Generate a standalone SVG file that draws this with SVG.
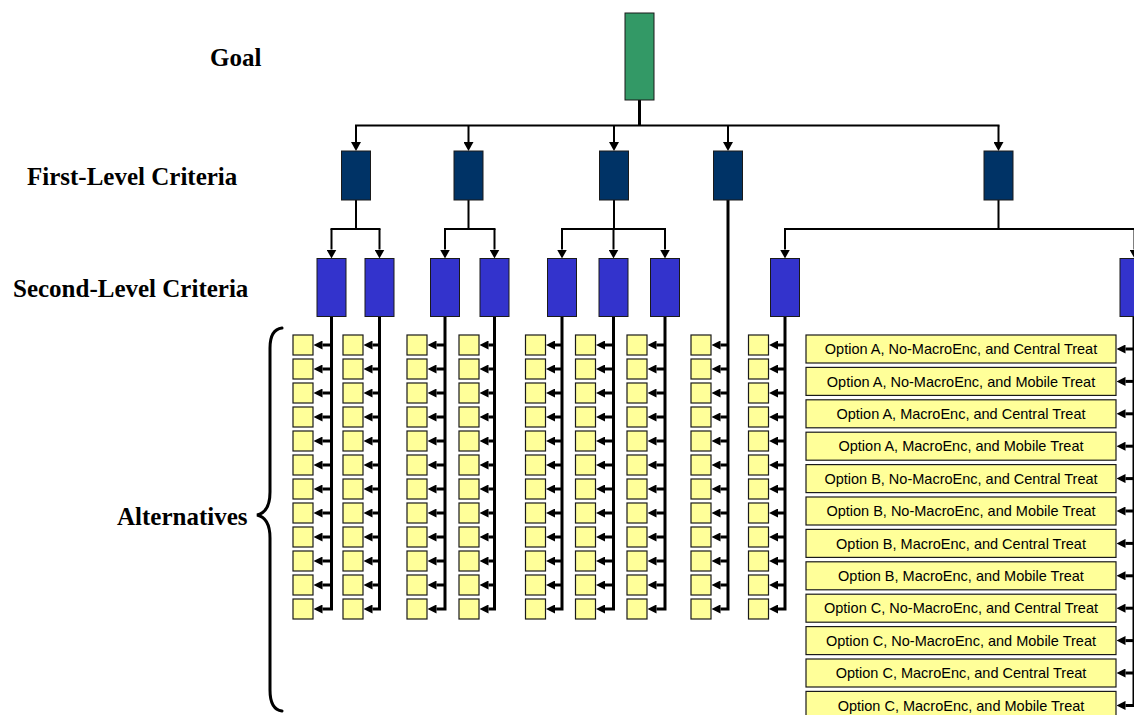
<svg xmlns="http://www.w3.org/2000/svg" xmlns:xlink="http://www.w3.org/1999/xlink" width="1134" height="715" viewBox="0 0 1134 715">
  <style>
    .lvl { font-family: "Liberation Serif", "Times New Roman", serif; font-weight: bold; font-size: 25px; fill: #000; }
    .opt-t { font-family: "Liberation Sans", Arial, sans-serif; font-size: 14.5px; fill: #000; text-anchor: middle; }
    .goal { fill: #339966; stroke: #1a1a1a; stroke-width: 1; }
    .c1 { fill: #003366; stroke: #1a1a1a; stroke-width: 1; }
    .c2 { fill: #3333cc; stroke: #1a1a1a; stroke-width: 1; }
    .alt { fill: #ffff99; stroke: #1a1a1a; stroke-width: 1.2; }
    .bar { fill: none; stroke: #000; stroke-width: 2; stroke-linecap: square; }
    .drop { fill: none; stroke: #000; stroke-width: 2; marker-end: url(#ahD); }
    .trunk { fill: none; stroke: #000; stroke-width: 3; }
    .stem { fill: none; stroke: #000; stroke-width: 3; marker-end: url(#ahL); }
    .brace { fill: none; stroke: #000; stroke-width: 3; stroke-linecap: round; }
  </style>
  <defs>
    <!-- arrowheads: base sits on the path end, tip points onward -->
    <marker id="ahD" viewBox="0 0 9 10" refX="0" refY="5" markerWidth="9" markerHeight="10" orient="auto" markerUnits="userSpaceOnUse">
      <path d="M0,0 L9,5 L0,10 z" fill="#000"/>
    </marker>
    <marker id="ahL" viewBox="0 0 9 9" refX="0" refY="4.5" markerWidth="9" markerHeight="9" orient="auto" markerUnits="userSpaceOnUse">
      <path d="M0,0 L9,4.5 L0,9 z" fill="#000"/>
    </marker>
    <rect id="sq" width="20" height="20" class="alt"/>
    <rect id="opt" width="310" height="28" class="alt"/>
  </defs>

  <!-- level labels -->
  <text class="lvl" x="210" y="66">Goal</text>
  <text class="lvl" x="27" y="185">First-Level Criteria</text>
  <text class="lvl" x="13" y="297">Second-Level Criteria</text>
  <text class="lvl" x="117" y="525">Alternatives</text>
  <path class="brace" d="M282,328 C274,329 270,335 270,348 V492 C270,506 266,513 257,515 C266,517 270,524 270,538 V690 C270,703 274,710 282,711"/>

  <!-- connectors -->
  <g id="connectors">
    <path class="trunk" d="M639.5,100 V125.5"/>
    <path class="bar" d="M356,125.5 H998.5"/>
    <path class="drop" d="M356,125.5 V142"/>
    <path class="drop" d="M468.5,125.5 V142"/>
    <path class="drop" d="M614,125.5 V142"/>
    <path class="drop" d="M728,125.5 V142"/>
    <path class="drop" d="M998.5,125.5 V142"/>

    <path class="bar" d="M356,200 V229 M331.5,229 H379.5"/>
    <path class="bar" d="M468.5,200 V229 M445,229 H494.5"/>
    <path class="bar" d="M614,200 V229 M562,229 H665"/>
    <path class="bar" d="M998.5,200 V229 M785,229 H1140"/>
    <path class="drop" d="M331.5,229 V249.5"/>
    <path class="drop" d="M379.5,229 V249.5"/>
    <path class="drop" d="M445,229 V249.5"/>
    <path class="drop" d="M494.5,229 V249.5"/>
    <path class="drop" d="M562,229 V249.5"/>
    <path class="drop" d="M613.5,229 V249.5"/>
    <path class="drop" d="M665,229 V249.5"/>
    <path class="drop" d="M785,229 V249.5"/>
    <path class="drop" d="M1134.5,229 V249.5"/>

    <!-- column 1 -->
    <path class="stem" d="M331.5,317 V609 H322.5"/>
    <path class="stem" d="M331.5,345 H322.5"/><path class="stem" d="M331.5,369 H322.5"/><path class="stem" d="M331.5,393 H322.5"/>
    <path class="stem" d="M331.5,417 H322.5"/><path class="stem" d="M331.5,441 H322.5"/><path class="stem" d="M331.5,465 H322.5"/>
    <path class="stem" d="M331.5,489 H322.5"/><path class="stem" d="M331.5,513 H322.5"/><path class="stem" d="M331.5,537 H322.5"/>
    <path class="stem" d="M331.5,561 H322.5"/><path class="stem" d="M331.5,585 H322.5"/>
    <!-- column 2 -->
    <path class="stem" d="M379.5,317 V609 H372.5"/>
    <path class="stem" d="M379.5,345 H372.5"/><path class="stem" d="M379.5,369 H372.5"/><path class="stem" d="M379.5,393 H372.5"/>
    <path class="stem" d="M379.5,417 H372.5"/><path class="stem" d="M379.5,441 H372.5"/><path class="stem" d="M379.5,465 H372.5"/>
    <path class="stem" d="M379.5,489 H372.5"/><path class="stem" d="M379.5,513 H372.5"/><path class="stem" d="M379.5,537 H372.5"/>
    <path class="stem" d="M379.5,561 H372.5"/><path class="stem" d="M379.5,585 H372.5"/>
    <!-- column 3 -->
    <path class="stem" d="M445,317 V609 H436.5"/>
    <path class="stem" d="M445,345 H436.5"/><path class="stem" d="M445,369 H436.5"/><path class="stem" d="M445,393 H436.5"/>
    <path class="stem" d="M445,417 H436.5"/><path class="stem" d="M445,441 H436.5"/><path class="stem" d="M445,465 H436.5"/>
    <path class="stem" d="M445,489 H436.5"/><path class="stem" d="M445,513 H436.5"/><path class="stem" d="M445,537 H436.5"/>
    <path class="stem" d="M445,561 H436.5"/><path class="stem" d="M445,585 H436.5"/>
    <!-- column 4 -->
    <path class="stem" d="M494.5,317 V609 H488.5"/>
    <path class="stem" d="M494.5,345 H488.5"/><path class="stem" d="M494.5,369 H488.5"/><path class="stem" d="M494.5,393 H488.5"/>
    <path class="stem" d="M494.5,417 H488.5"/><path class="stem" d="M494.5,441 H488.5"/><path class="stem" d="M494.5,465 H488.5"/>
    <path class="stem" d="M494.5,489 H488.5"/><path class="stem" d="M494.5,513 H488.5"/><path class="stem" d="M494.5,537 H488.5"/>
    <path class="stem" d="M494.5,561 H488.5"/><path class="stem" d="M494.5,585 H488.5"/>
    <!-- column 5 -->
    <path class="stem" d="M562,317 V609 H555"/>
    <path class="stem" d="M562,345 H555"/><path class="stem" d="M562,369 H555"/><path class="stem" d="M562,393 H555"/>
    <path class="stem" d="M562,417 H555"/><path class="stem" d="M562,441 H555"/><path class="stem" d="M562,465 H555"/>
    <path class="stem" d="M562,489 H555"/><path class="stem" d="M562,513 H555"/><path class="stem" d="M562,537 H555"/>
    <path class="stem" d="M562,561 H555"/><path class="stem" d="M562,585 H555"/>
    <!-- column 6 -->
    <path class="stem" d="M613.5,317 V609 H605"/>
    <path class="stem" d="M613.5,345 H605"/><path class="stem" d="M613.5,369 H605"/><path class="stem" d="M613.5,393 H605"/>
    <path class="stem" d="M613.5,417 H605"/><path class="stem" d="M613.5,441 H605"/><path class="stem" d="M613.5,465 H605"/>
    <path class="stem" d="M613.5,489 H605"/><path class="stem" d="M613.5,513 H605"/><path class="stem" d="M613.5,537 H605"/>
    <path class="stem" d="M613.5,561 H605"/><path class="stem" d="M613.5,585 H605"/>
    <!-- column 7 -->
    <path class="stem" d="M665,317 V609 H656.5"/>
    <path class="stem" d="M665,345 H656.5"/><path class="stem" d="M665,369 H656.5"/><path class="stem" d="M665,393 H656.5"/>
    <path class="stem" d="M665,417 H656.5"/><path class="stem" d="M665,441 H656.5"/><path class="stem" d="M665,465 H656.5"/>
    <path class="stem" d="M665,489 H656.5"/><path class="stem" d="M665,513 H656.5"/><path class="stem" d="M665,537 H656.5"/>
    <path class="stem" d="M665,561 H656.5"/><path class="stem" d="M665,585 H656.5"/>
    <!-- column 8 (straight from first-level criterion 4) -->
    <path class="stem" d="M728,200 V609 H720.5"/>
    <path class="stem" d="M728,345 H720.5"/><path class="stem" d="M728,369 H720.5"/><path class="stem" d="M728,393 H720.5"/>
    <path class="stem" d="M728,417 H720.5"/><path class="stem" d="M728,441 H720.5"/><path class="stem" d="M728,465 H720.5"/>
    <path class="stem" d="M728,489 H720.5"/><path class="stem" d="M728,513 H720.5"/><path class="stem" d="M728,537 H720.5"/>
    <path class="stem" d="M728,561 H720.5"/><path class="stem" d="M728,585 H720.5"/>
    <!-- column 9 -->
    <path class="stem" d="M785,317 V609 H778"/>
    <path class="stem" d="M785,345 H778"/><path class="stem" d="M785,369 H778"/><path class="stem" d="M785,393 H778"/>
    <path class="stem" d="M785,417 H778"/><path class="stem" d="M785,441 H778"/><path class="stem" d="M785,465 H778"/>
    <path class="stem" d="M785,489 H778"/><path class="stem" d="M785,513 H778"/><path class="stem" d="M785,537 H778"/>
    <path class="stem" d="M785,561 H778"/><path class="stem" d="M785,585 H778"/>
    <!-- named options column -->
    <path class="stem" d="M1134,317 V705.4 H1125.5"/>
    <path class="stem" d="M1134,349 H1125.5"/><path class="stem" d="M1134,381.4 H1125.5"/><path class="stem" d="M1134,413.8 H1125.5"/>
    <path class="stem" d="M1134,446.2 H1125.5"/><path class="stem" d="M1134,478.6 H1125.5"/><path class="stem" d="M1134,511 H1125.5"/>
    <path class="stem" d="M1134,543.4 H1125.5"/><path class="stem" d="M1134,575.8 H1125.5"/><path class="stem" d="M1134,608.2 H1125.5"/>
    <path class="stem" d="M1134,640.6 H1125.5"/><path class="stem" d="M1134,673 H1125.5"/>
  </g>

  <!-- goal -->
  <g id="goal"><rect class="goal" x="625" y="13" width="29" height="87"/></g>

  <!-- first-level criteria -->
  <g id="crit1-1"><rect class="c1" x="341.5" y="151" width="29" height="49"/></g>
  <g id="crit1-2"><rect class="c1" x="454" y="151" width="29" height="49"/></g>
  <g id="crit1-3"><rect class="c1" x="599.5" y="151" width="29" height="49"/></g>
  <g id="crit1-4"><rect class="c1" x="713.5" y="151" width="29" height="49"/></g>
  <g id="crit1-5"><rect class="c1" x="984" y="151" width="29" height="49"/></g>

  <!-- second-level criteria -->
  <g id="crit2-1"><rect class="c2" x="317" y="258.5" width="29" height="58"/></g>
  <g id="crit2-2"><rect class="c2" x="365" y="258.5" width="29" height="58"/></g>
  <g id="crit2-3"><rect class="c2" x="430.5" y="258.5" width="29" height="58"/></g>
  <g id="crit2-4"><rect class="c2" x="480" y="258.5" width="29" height="58"/></g>
  <g id="crit2-5"><rect class="c2" x="547.5" y="258.5" width="29" height="58"/></g>
  <g id="crit2-6"><rect class="c2" x="599" y="258.5" width="29" height="58"/></g>
  <g id="crit2-7"><rect class="c2" x="650.5" y="258.5" width="29" height="58"/></g>
  <g id="crit2-8"><rect class="c2" x="770.5" y="258.5" width="29" height="58"/></g>
  <g id="crit2-9"><rect class="c2" x="1120" y="258.5" width="29" height="58"/></g>

  <!-- alternatives, column 1 -->
  <g id="alt1-01"><use href="#sq" x="293" y="335"/></g><g id="alt1-02"><use href="#sq" x="293" y="359"/></g>
  <g id="alt1-03"><use href="#sq" x="293" y="383"/></g><g id="alt1-04"><use href="#sq" x="293" y="407"/></g>
  <g id="alt1-05"><use href="#sq" x="293" y="431"/></g><g id="alt1-06"><use href="#sq" x="293" y="455"/></g>
  <g id="alt1-07"><use href="#sq" x="293" y="479"/></g><g id="alt1-08"><use href="#sq" x="293" y="503"/></g>
  <g id="alt1-09"><use href="#sq" x="293" y="527"/></g><g id="alt1-10"><use href="#sq" x="293" y="551"/></g>
  <g id="alt1-11"><use href="#sq" x="293" y="575"/></g><g id="alt1-12"><use href="#sq" x="293" y="599"/></g>
  <!-- column 2 -->
  <g id="alt2-01"><use href="#sq" x="343" y="335"/></g><g id="alt2-02"><use href="#sq" x="343" y="359"/></g>
  <g id="alt2-03"><use href="#sq" x="343" y="383"/></g><g id="alt2-04"><use href="#sq" x="343" y="407"/></g>
  <g id="alt2-05"><use href="#sq" x="343" y="431"/></g><g id="alt2-06"><use href="#sq" x="343" y="455"/></g>
  <g id="alt2-07"><use href="#sq" x="343" y="479"/></g><g id="alt2-08"><use href="#sq" x="343" y="503"/></g>
  <g id="alt2-09"><use href="#sq" x="343" y="527"/></g><g id="alt2-10"><use href="#sq" x="343" y="551"/></g>
  <g id="alt2-11"><use href="#sq" x="343" y="575"/></g><g id="alt2-12"><use href="#sq" x="343" y="599"/></g>
  <!-- column 3 -->
  <g id="alt3-01"><use href="#sq" x="407" y="335"/></g><g id="alt3-02"><use href="#sq" x="407" y="359"/></g>
  <g id="alt3-03"><use href="#sq" x="407" y="383"/></g><g id="alt3-04"><use href="#sq" x="407" y="407"/></g>
  <g id="alt3-05"><use href="#sq" x="407" y="431"/></g><g id="alt3-06"><use href="#sq" x="407" y="455"/></g>
  <g id="alt3-07"><use href="#sq" x="407" y="479"/></g><g id="alt3-08"><use href="#sq" x="407" y="503"/></g>
  <g id="alt3-09"><use href="#sq" x="407" y="527"/></g><g id="alt3-10"><use href="#sq" x="407" y="551"/></g>
  <g id="alt3-11"><use href="#sq" x="407" y="575"/></g><g id="alt3-12"><use href="#sq" x="407" y="599"/></g>
  <!-- column 4 -->
  <g id="alt4-01"><use href="#sq" x="459" y="335"/></g><g id="alt4-02"><use href="#sq" x="459" y="359"/></g>
  <g id="alt4-03"><use href="#sq" x="459" y="383"/></g><g id="alt4-04"><use href="#sq" x="459" y="407"/></g>
  <g id="alt4-05"><use href="#sq" x="459" y="431"/></g><g id="alt4-06"><use href="#sq" x="459" y="455"/></g>
  <g id="alt4-07"><use href="#sq" x="459" y="479"/></g><g id="alt4-08"><use href="#sq" x="459" y="503"/></g>
  <g id="alt4-09"><use href="#sq" x="459" y="527"/></g><g id="alt4-10"><use href="#sq" x="459" y="551"/></g>
  <g id="alt4-11"><use href="#sq" x="459" y="575"/></g><g id="alt4-12"><use href="#sq" x="459" y="599"/></g>
  <!-- column 5 -->
  <g id="alt5-01"><use href="#sq" x="525.5" y="335"/></g><g id="alt5-02"><use href="#sq" x="525.5" y="359"/></g>
  <g id="alt5-03"><use href="#sq" x="525.5" y="383"/></g><g id="alt5-04"><use href="#sq" x="525.5" y="407"/></g>
  <g id="alt5-05"><use href="#sq" x="525.5" y="431"/></g><g id="alt5-06"><use href="#sq" x="525.5" y="455"/></g>
  <g id="alt5-07"><use href="#sq" x="525.5" y="479"/></g><g id="alt5-08"><use href="#sq" x="525.5" y="503"/></g>
  <g id="alt5-09"><use href="#sq" x="525.5" y="527"/></g><g id="alt5-10"><use href="#sq" x="525.5" y="551"/></g>
  <g id="alt5-11"><use href="#sq" x="525.5" y="575"/></g><g id="alt5-12"><use href="#sq" x="525.5" y="599"/></g>
  <!-- column 6 -->
  <g id="alt6-01"><use href="#sq" x="575.5" y="335"/></g><g id="alt6-02"><use href="#sq" x="575.5" y="359"/></g>
  <g id="alt6-03"><use href="#sq" x="575.5" y="383"/></g><g id="alt6-04"><use href="#sq" x="575.5" y="407"/></g>
  <g id="alt6-05"><use href="#sq" x="575.5" y="431"/></g><g id="alt6-06"><use href="#sq" x="575.5" y="455"/></g>
  <g id="alt6-07"><use href="#sq" x="575.5" y="479"/></g><g id="alt6-08"><use href="#sq" x="575.5" y="503"/></g>
  <g id="alt6-09"><use href="#sq" x="575.5" y="527"/></g><g id="alt6-10"><use href="#sq" x="575.5" y="551"/></g>
  <g id="alt6-11"><use href="#sq" x="575.5" y="575"/></g><g id="alt6-12"><use href="#sq" x="575.5" y="599"/></g>
  <!-- column 7 -->
  <g id="alt7-01"><use href="#sq" x="627" y="335"/></g><g id="alt7-02"><use href="#sq" x="627" y="359"/></g>
  <g id="alt7-03"><use href="#sq" x="627" y="383"/></g><g id="alt7-04"><use href="#sq" x="627" y="407"/></g>
  <g id="alt7-05"><use href="#sq" x="627" y="431"/></g><g id="alt7-06"><use href="#sq" x="627" y="455"/></g>
  <g id="alt7-07"><use href="#sq" x="627" y="479"/></g><g id="alt7-08"><use href="#sq" x="627" y="503"/></g>
  <g id="alt7-09"><use href="#sq" x="627" y="527"/></g><g id="alt7-10"><use href="#sq" x="627" y="551"/></g>
  <g id="alt7-11"><use href="#sq" x="627" y="575"/></g><g id="alt7-12"><use href="#sq" x="627" y="599"/></g>
  <!-- column 8 -->
  <g id="alt8-01"><use href="#sq" x="691" y="335"/></g><g id="alt8-02"><use href="#sq" x="691" y="359"/></g>
  <g id="alt8-03"><use href="#sq" x="691" y="383"/></g><g id="alt8-04"><use href="#sq" x="691" y="407"/></g>
  <g id="alt8-05"><use href="#sq" x="691" y="431"/></g><g id="alt8-06"><use href="#sq" x="691" y="455"/></g>
  <g id="alt8-07"><use href="#sq" x="691" y="479"/></g><g id="alt8-08"><use href="#sq" x="691" y="503"/></g>
  <g id="alt8-09"><use href="#sq" x="691" y="527"/></g><g id="alt8-10"><use href="#sq" x="691" y="551"/></g>
  <g id="alt8-11"><use href="#sq" x="691" y="575"/></g><g id="alt8-12"><use href="#sq" x="691" y="599"/></g>
  <!-- column 9 -->
  <g id="alt9-01"><use href="#sq" x="748.5" y="335"/></g><g id="alt9-02"><use href="#sq" x="748.5" y="359"/></g>
  <g id="alt9-03"><use href="#sq" x="748.5" y="383"/></g><g id="alt9-04"><use href="#sq" x="748.5" y="407"/></g>
  <g id="alt9-05"><use href="#sq" x="748.5" y="431"/></g><g id="alt9-06"><use href="#sq" x="748.5" y="455"/></g>
  <g id="alt9-07"><use href="#sq" x="748.5" y="479"/></g><g id="alt9-08"><use href="#sq" x="748.5" y="503"/></g>
  <g id="alt9-09"><use href="#sq" x="748.5" y="527"/></g><g id="alt9-10"><use href="#sq" x="748.5" y="551"/></g>
  <g id="alt9-11"><use href="#sq" x="748.5" y="575"/></g><g id="alt9-12"><use href="#sq" x="748.5" y="599"/></g>

  <!-- named options -->
  <g id="opt-01"><use href="#opt" x="806" y="335"/><text class="opt-t" x="961" y="354.2">Option A, No-MacroEnc, and Central Treat</text></g>
  <g id="opt-02"><use href="#opt" x="806" y="367.4"/><text class="opt-t" x="961" y="386.6">Option A, No-MacroEnc, and Mobile Treat</text></g>
  <g id="opt-03"><use href="#opt" x="806" y="399.8"/><text class="opt-t" x="961" y="419">Option A, MacroEnc, and Central Treat</text></g>
  <g id="opt-04"><use href="#opt" x="806" y="432.2"/><text class="opt-t" x="961" y="451.4">Option A, MacroEnc, and Mobile Treat</text></g>
  <g id="opt-05"><use href="#opt" x="806" y="464.6"/><text class="opt-t" x="961" y="483.8">Option B, No-MacroEnc, and Central Treat</text></g>
  <g id="opt-06"><use href="#opt" x="806" y="497"/><text class="opt-t" x="961" y="516.2">Option B, No-MacroEnc, and Mobile Treat</text></g>
  <g id="opt-07"><use href="#opt" x="806" y="529.4"/><text class="opt-t" x="961" y="548.6">Option B, MacroEnc, and Central Treat</text></g>
  <g id="opt-08"><use href="#opt" x="806" y="561.8"/><text class="opt-t" x="961" y="581">Option B, MacroEnc, and Mobile Treat</text></g>
  <g id="opt-09"><use href="#opt" x="806" y="594.2"/><text class="opt-t" x="961" y="613.4">Option C, No-MacroEnc, and Central Treat</text></g>
  <g id="opt-10"><use href="#opt" x="806" y="626.6"/><text class="opt-t" x="961" y="645.8">Option C, No-MacroEnc, and Mobile Treat</text></g>
  <g id="opt-11"><use href="#opt" x="806" y="659"/><text class="opt-t" x="961" y="678.2">Option C, MacroEnc, and Central Treat</text></g>
  <g id="opt-12"><use href="#opt" x="806" y="691.4"/><text class="opt-t" x="961" y="710.6">Option C, MacroEnc, and Mobile Treat</text></g>
</svg>
